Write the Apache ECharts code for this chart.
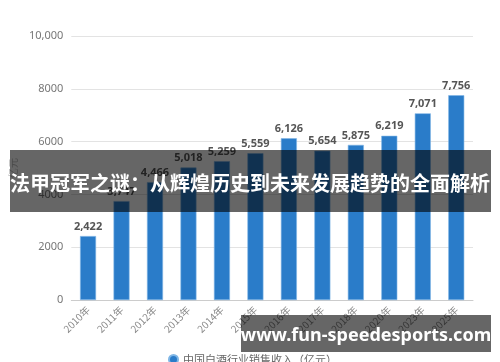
<!DOCTYPE html>
<html><head><meta charset="utf-8">
<script src="https://cdn.jsdelivr.net/npm/echarts@6/dist/echarts.min.js"></script>
<style>html,body{margin:0;padding:0;background:#fff}#c{width:500px;height:362px}</style>
</head><body><div id="c"></div>
<script>
const categories = ['2010年','2011年','2012年','2013年','2014年','2015年','2016年','2017年','2018年','2020年','2023年','2025年'];
const revenue = [2422, 3747, 4466, 5018, 5259, 5559, 6126, 5654, 5875, 6219, 7071, 7756];
const seriesName = '中国白酒行业销售收入（亿元）';
const bannerTitle = '法甲冠军之谜：从辉煌历史到未来发展趋势的全面解析';
const siteText = 'www.fun-speedesports.com';

const chart = echarts.init(document.getElementById('c'), null, {renderer:'canvas'});
const fmt = v => v.toString().replace(/\B(?=(\d{3})+(?!\d))/g, ',');
chart.setOption({
  animation:false,
  grid:{left:68, right:27, top:36, bottom:62},
  legend:{data:[seriesName], left:163, top:349, icon:'circle', itemWidth:9, itemHeight:9, itemGap:6,
    textStyle:{color:'#666', fontSize:11, fontFamily:'Noto Sans CJK SC'}},
  xAxis:{type:'category', data:categories,
    axisLine:{lineStyle:{color:'#cccccc'}},
    axisTick:{alignWithLabel:true, length:4, lineStyle:{color:'#cccccc'}},
    axisLabel:{rotate:45, color:'#888', fontSize:10, margin:8, fontFamily:'Noto Sans CJK SC'}},
  yAxis:{type:'value', min:0, max:10000, interval:2000,
    name:'亿元', nameLocation:'middle', nameRotate:90, nameGap:50,
    nameTextStyle:{color:'#bbb', fontSize:10, fontFamily:'Noto Sans CJK SC', padding:[0,0,0,0]},
    axisLine:{show:false}, axisTick:{show:false},
    splitLine:{lineStyle:{color:'#e3e3e3'}},
    axisLabel:{color:'#777', fontSize:11, margin:8, fontFamily:'Noto Sans',
      formatter: v => v===10000 ? '10,000' : String(v)}},
  series:[{name:seriesName, type:'bar', data:revenue, barWidth:16,
    itemStyle:{color:'#2a7cc9', borderColor:'#7fb6e6', borderWidth:0.6},
    label:{show:true, position:'top', distance:4, color:'#555', fontWeight:'bold', fontSize:11,
      fontFamily:'Noto Sans', formatter: p => fmt(p.value)}}],
  graphic:[
    {type:'rect', z:100, shape:{x:10, y:150, width:481, height:62}, style:{fill:'rgba(0,0,0,0.6)'}},
    {type:'text', z:101, x:250, y:183, style:{text:bannerTitle, fill:'#fff', font:'bold 20px "Noto Sans CJK SC"', align:'center', verticalAlign:'middle'}},
    {type:'rect', z:100, shape:{x:241, y:315, width:250, height:37}, style:{fill:'rgba(0,0,0,0.6)'}},
    {type:'text', z:101, x:366, y:336, style:{text:siteText, fill:'#fff', font:'bold 18px "Noto Sans"', align:'center', verticalAlign:'middle'}}
  ]
});
</script></body></html>
